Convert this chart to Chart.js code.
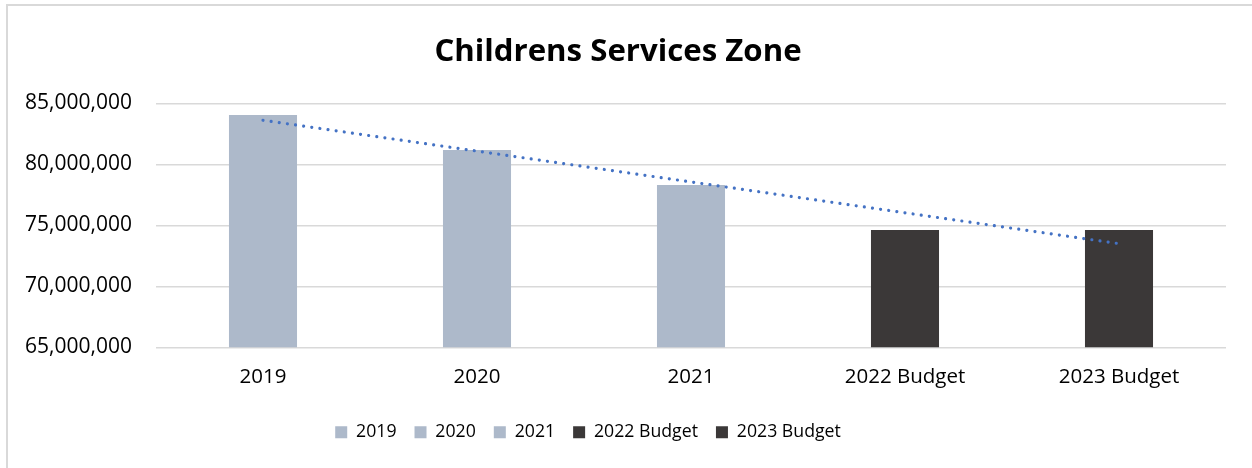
<!DOCTYPE html>
<html>
<head>
<meta charset="utf-8">
<script src="https://cdn.jsdelivr.net/npm/chart.js@4/dist/chart.umd.min.js"></script>
<style>
  html, body { margin: 0; padding: 0; background: #ffffff; }
  #wrap { position: relative; width: 1252px; height: 468px; }
</style>
</head>
<body>
<div id="wrap"><canvas id="chart" width="1252" height="468"></canvas></div>
<script>
// Spending per year (actuals and budgets)
const categories = ['2019', '2020', '2021', '2022 Budget', '2023 Budget'];
const spend = [84060000, 81190000, 78320000, 74630000, 74630000];
// Linear trend line values at each category
const trend = [83620000, 81090000, 78560000, 76030000, 73500000];
const barColors = ['#ADB9CA', '#ADB9CA', '#ADB9CA', '#3B3838', '#3B3838'];
const yTicks = [65000000, 70000000, 75000000, 80000000, 85000000];

const FONT = '"Open Sans", "Liberation Sans", sans-serif';

// Light frame around the chart
const framePlugin = {
  id: 'frame',
  beforeDraw(chart) {
    const ctx = chart.ctx;
    ctx.save();
    ctx.fillStyle = '#ffffff';
    ctx.fillRect(0, 0, chart.width, chart.height);
    ctx.strokeStyle = '#D9D9D9';
    ctx.lineWidth = 2;
    ctx.beginPath();
    ctx.moveTo(7, chart.height + 2);
    ctx.lineTo(7, 5);
    ctx.lineTo(chart.width + 2, 5);
    ctx.stroke();
    ctx.restore();
  }
};

// Nudge the legend row horizontally
const legendShift = {
  id: 'legendShift',
  afterLayout(chart) {
    const l = chart.legend;
    if (!l) return;
    const d = -30;
    l.left += d;
    l.right += d;
  }
};

new Chart(document.getElementById('chart'), {
  type: 'bar',
  data: {
    labels: categories,
    datasets: [
      {
        type: 'line',
        label: 'Trend',
        data: trend,
        borderColor: '#4472C4',
        borderWidth: 3.2,
        borderDash: [0.01, 8.2],
        borderCapStyle: 'round',
        pointRadius: 0,
        fill: false,
        tension: 0,
        order: 0
      },
      {
        type: 'bar',
        label: 'Spend',
        data: spend,
        backgroundColor: barColors,
        borderWidth: 0,
        barPercentage: 0.318,
        categoryPercentage: 1.0,
        order: 1
      }
    ]
  },
  options: {
    responsive: false,
    animation: false,
    layout: { padding: { top: 0, left: 10, right: 26, bottom: 17 } },
    plugins: {
      title: {
        display: true,
        text: 'Childrens Services Zone',
        color: '#000000',
        font: { family: FONT, size: 31.2, weight: 'bold' },
        padding: { top: 33, bottom: 33 }
      },
      legend: {
        display: true,
        position: 'bottom',
        labels: {
          color: '#000000',
          font: { family: FONT, size: 17.7 },
          boxWidth: 12,
          boxHeight: 12,
          padding: 18,
          generateLabels() {
            return categories.map((c, i) => ({
              text: c,
              fillStyle: barColors[i],
              strokeStyle: barColors[i],
              lineWidth: 0,
              hidden: false,
              index: i,
              datasetIndex: 1
            }));
          }
        },
        onClick() {}
      },
      tooltip: { enabled: false }
    },
    scales: {
      x: {
        grid: { display: false, drawTicks: false },
        border: { display: false },
        ticks: {
          color: '#000000',
          font: { family: FONT, size: 20.5 },
          padding: 18
        },
        afterFit(scale) { scale.height = 58; }
      },
      y: {
        min: 65000000,
        max: 85000000,
        grid: { color: '#D9D9D9', lineWidth: 1.5, drawTicks: false },
        border: { display: false },
        afterBuildTicks(scale) {
          scale.ticks = yTicks.map(v => ({ value: v }));
        },
        ticks: {
          color: '#000000',
          font: { family: FONT, size: 21 },
          padding: 24,
          callback: v => Number(v).toLocaleString('en-US')
        },
        afterFit(scale) { scale.width = 146; }
      }
    }
  },
  plugins: [framePlugin, legendShift]
});
</script>
</body>
</html>
